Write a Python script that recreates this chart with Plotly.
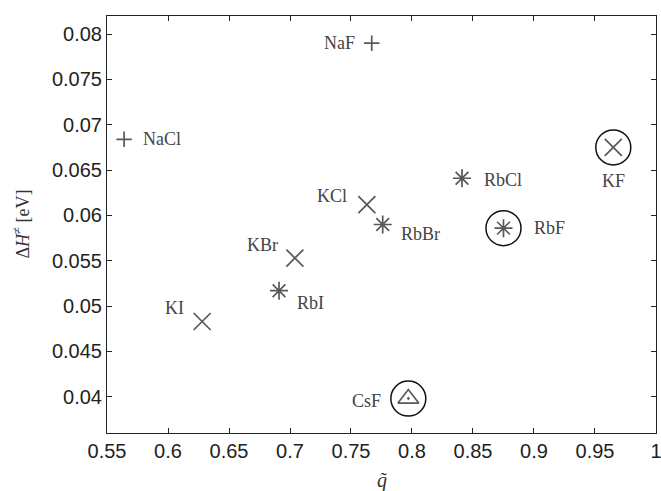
import plotly.graph_objects as go

# Data
names = ["NaCl", "NaF", "KCl", "KBr", "KI", "KF", "RbCl", "RbBr", "RbI", "RbF", "CsF"]
q_tilde = [0.564, 0.767, 0.763, 0.704, 0.628, 0.965, 0.841, 0.776, 0.691, 0.875, 0.797]
dH = [0.0684, 0.0790, 0.0612, 0.0553, 0.0483, 0.0675, 0.0641, 0.0590, 0.0517, 0.0586, 0.0398]
symbols = ["cross-thin-open", "cross-thin-open", "x-thin-open", "x-thin-open", "x-thin-open",
           "x-thin-open", "asterisk-open", "asterisk-open", "asterisk-open", "asterisk-open",
           "triangle-up-open-dot"]
circled = ["KF", "RbF", "CsF"]

xticks = [0.55, 0.6, 0.65, 0.7, 0.75, 0.8, 0.85, 0.9, 0.95, 1.0]
xticklabels = ["0.55", "0.6", "0.65", "0.7", "0.75", "0.8", "0.85", "0.9", "0.95", "1"]
yticks = [0.04, 0.045, 0.05, 0.055, 0.06, 0.065, 0.07, 0.075, 0.08]
yticklabels = ["0.04", "0.045", "0.05", "0.055", "0.06", "0.065", "0.07", "0.075", "0.08"]

# label placement (style): xanchor, xshift, yshift
label_style = {
    "NaCl": ("left", 17, 0),
    "NaF": ("right", -15, 0),
    "KCl": ("right", -18, 9),
    "KBr": ("right", -15, 13),
    "KI": ("right", -16, 14),
    "KF": ("center", 0, -34),
    "RbCl": ("left", 20, -2),
    "RbBr": ("left", 16, -9),
    "RbI": ("left", 16, -12),
    "RbF": ("left", 29, 0),
    "CsF": ("right", -25, -2),
}
size_map = {"cross-thin-open": 11, "x-thin-open": 17, "asterisk-open": 15, "triangle-up-open-dot": 18}

fig = go.Figure()
fig.add_trace(go.Scatter(
    x=q_tilde, y=dH, mode="markers",
    marker=dict(symbol=symbols, size=[size_map[s] for s in symbols],
                color="#111111", line=dict(color="#111111", width=1.7)),
    hoverinfo="skip", showlegend=False, cliponaxis=False,
))
cx = [q_tilde[names.index(n)] for n in circled]
cy = [dH[names.index(n)] for n in circled]
fig.add_trace(go.Scatter(
    x=cx, y=cy, mode="markers",
    marker=dict(symbol="circle-open", size=35, color="#111111", line=dict(color="#111111", width=1.5)),
    hoverinfo="skip", showlegend=False, cliponaxis=False,
))

for n, xv, yv in zip(names, q_tilde, dH):
    xa, xs, ys = label_style[n]
    fig.add_annotation(x=xv, y=yv, text=n, showarrow=False, xanchor=xa, yanchor="middle",
                       xshift=xs, yshift=ys,
                       font=dict(family="Liberation Serif", size=18, color="#444444"))

# axis titles
fig.add_annotation(x=0.5, y=0, xref="paper", yref="paper", text="<i>q̃</i>", showarrow=False,
                   xanchor="center", yanchor="middle", yshift=-47,
                   font=dict(family="Liberation Serif", size=20, color="#333333"))
fig.add_annotation(x=0, y=0.5, xref="paper", yref="paper", text="Δ<i>H</i><sup>≠</sup> [eV]",
                   showarrow=False, textangle=-90, xanchor="center", yanchor="middle", xshift=-85,
                   font=dict(family="Liberation Serif", size=18, color="#333333"))

axis_common = dict(showline=True, linecolor="#222222", linewidth=1, mirror="ticks",
                   ticks="inside", ticklen=5, tickcolor="#222222", tickwidth=1,
                   showgrid=False, zeroline=False, automargin=False, ticklabeloverflow="allow",
                   tickfont=dict(family="Liberation Sans", size=20, color="#222222"))

fig.update_layout(
    width=661, height=491,
    margin=dict(l=107, r=5, t=16, b=58),
    plot_bgcolor="white", paper_bgcolor="white",
    xaxis=dict(range=[0.55, 1.00001], tickvals=xticks, ticktext=xticklabels, **axis_common),
    yaxis=dict(range=[0.036, 0.082], tickvals=yticks, ticktext=yticklabels, **axis_common),
)

# remove the default page-body margin so the 661x491 figure fills the window exactly
fig.write_html("out.html", config={"displayModeBar": False},
               post_script="document.body.style.margin='0';document.body.style.overflow='hidden';")
